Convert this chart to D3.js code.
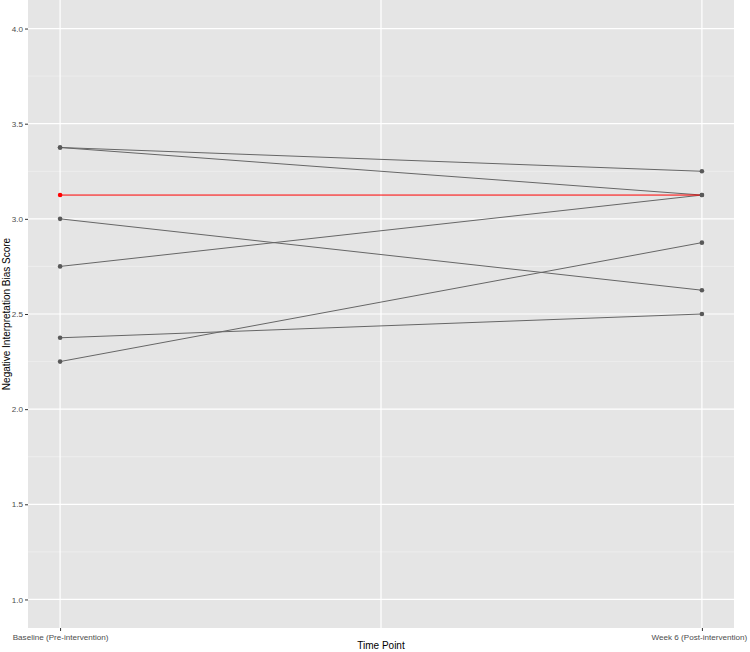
<!DOCTYPE html>
<html lang="en">
<head>
<meta charset="UTF-8">
<title>Interpretation bias</title>
<style>
  body { margin: 0; background: #fff; }
  text { font-family: "Liberation Sans", Arial, sans-serif; }
  .tick-label { font-size: 8.1px; fill: #4d4d4d; }
  .axis-title { font-size: 10px; fill: #000; }
</style>
</head>
<body>
<div id="plot"></div>
<script src="https://cdnjs.cloudflare.com/ajax/libs/d3/7.8.5/d3.min.js"></script>
<script>
// data
var timePoints = [0, 6];
var timeLabels = ["Baseline (Pre-intervention)", "Week 6 (Post-intervention)"];
var baseline = [3.375, 3.375, 3.125, 3.0, 2.75, 2.375, 2.25];
var week6    = [3.25, 3.125, 3.125, 2.625, 3.125, 2.5, 2.875];
var highlight = [false, false, true, false, false, false, false];
var yTicks = [1.0, 1.5, 2.0, 2.5, 3.0, 3.5, 4.0];
var yMinor = [1.25, 1.75, 2.25, 2.75, 3.25, 3.75];
var xGrid = [0, 3, 6];

var W = 750, H = 652;
var panel = { left: 28, right: 734, top: 0, bottom: 628 };

var svg = d3.select("#plot").append("svg")
  .attr("width", W).attr("height", H);

var x = d3.scaleLinear().domain([-0.3, 6.3]).range([panel.left, panel.right]);
var y = d3.scaleLinear().domain([0.85, 4.15]).range([panel.bottom, panel.top]);

svg.append("rect")
  .attr("x", panel.left).attr("y", panel.top)
  .attr("width", panel.right - panel.left)
  .attr("height", panel.bottom - panel.top)
  .attr("fill", "#e5e5e5");

// minor grid
svg.selectAll("line.minor").data(yMinor).enter().append("line")
  .attr("x1", panel.left).attr("x2", panel.right)
  .attr("y1", function(d) { return y(d); }).attr("y2", function(d) { return y(d); })
  .attr("stroke", "#f4f4f4").attr("stroke-width", 0.6);

// major grid
svg.selectAll("line.majory").data(yTicks).enter().append("line")
  .attr("x1", panel.left).attr("x2", panel.right)
  .attr("y1", function(d) { return y(d); }).attr("y2", function(d) { return y(d); })
  .attr("stroke", "#fff").attr("stroke-width", 1.2);

svg.selectAll("line.majorx").data(xGrid).enter().append("line")
  .attr("y1", panel.top).attr("y2", panel.bottom)
  .attr("x1", function(d) { return x(d); }).attr("x2", function(d) { return x(d); })
  .attr("stroke", "#fff").attr("stroke-width", 1.2);

// axes
var yAxis = d3.axisLeft(y).tickValues(yTicks).tickSize(3).tickPadding(2)
  .tickFormat(d3.format(".1f"));
var gy = svg.append("g").attr("transform", "translate(" + panel.left + ",0)").call(yAxis);
gy.select(".domain").remove();
gy.selectAll(".tick line").attr("stroke", "#333");
gy.selectAll(".tick text").attr("class", "tick-label").attr("font-family", null).attr("font-size", null);

var xAxis = d3.axisBottom(x).tickValues(timePoints).tickSize(3).tickPadding(3)
  .tickFormat(function(d, i) { return timeLabels[i]; });
var gx = svg.append("g").attr("transform", "translate(0," + panel.bottom + ")").call(xAxis);
gx.select(".domain").remove();
gx.selectAll(".tick line").attr("stroke", "#333");
gx.selectAll(".tick text").attr("class", "tick-label").attr("font-family", null).attr("font-size", null)
  .attr("dx", function(d, i) { return i === timePoints.length - 1 ? -3 : 0; });

// lines and points
var rows = baseline.map(function(b, i) {
  return { hi: highlight[i], pts: [[timePoints[0], b], [timePoints[1], week6[i]]] };
});
rows.sort(function(a, b) { return a.hi - b.hi; });

var line = d3.line().x(function(d) { return x(d[0]); }).y(function(d) { return y(d[1]); });

rows.forEach(function(r) {
  var col = r.hi ? "#ff0000" : "#666666";
  svg.append("path").attr("d", line(r.pts))
    .attr("fill", "none").attr("stroke", col).attr("stroke-width", 1);
});
rows.forEach(function(r) {
  var col = r.hi ? "#ff0000" : "#595959";
  svg.selectAll(null).data(r.hi ? r.pts.slice(0, 1) : r.pts).enter().append("circle")
    .attr("cx", function(d) { return x(d[0]); })
    .attr("cy", function(d) { return y(d[1]); })
    .attr("r", 2.3).attr("fill", col);
});

// titles
svg.append("text").attr("class", "axis-title")
  .attr("x", (panel.left + panel.right) / 2).attr("y", 649)
  .attr("text-anchor", "middle").text("Time Point");
svg.append("text").attr("class", "axis-title")
  .attr("transform", "translate(10," + (panel.top + panel.bottom) / 2 + ") rotate(-90)")
  .attr("text-anchor", "middle").text("Negative Interpretation Bias Score");
</script>
</body>
</html>
